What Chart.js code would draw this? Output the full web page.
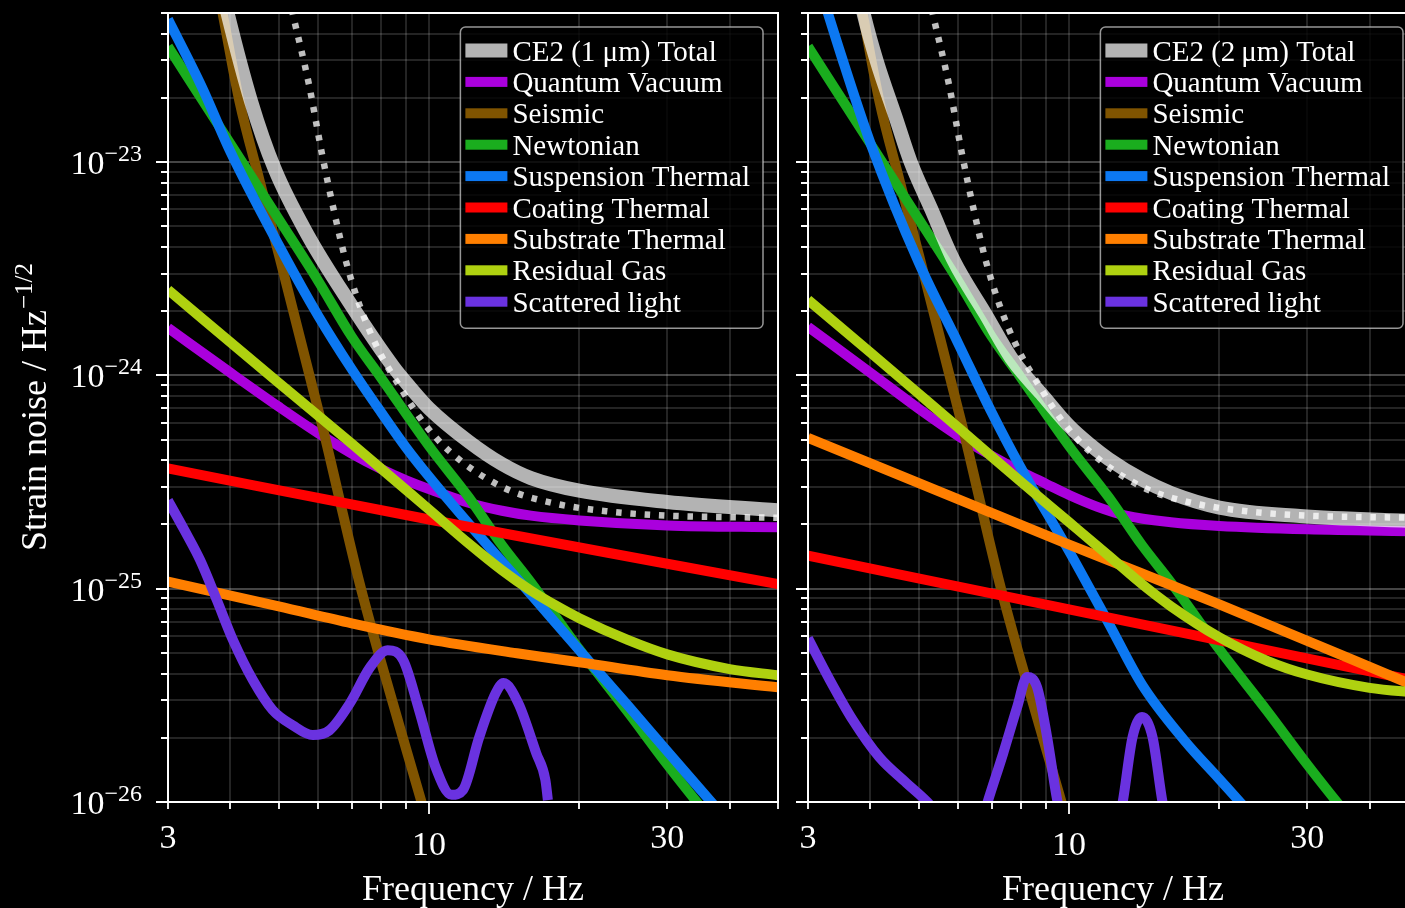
<!DOCTYPE html>
<html>
<head>
<meta charset="utf-8">
<script src="https://cdn.jsdelivr.net/npm/chart.js@4.4.1/dist/chart.umd.min.js"></script>
<style>
  html, body { margin: 0; padding: 0; background: #000; overflow: hidden; width: 1405px; height: 908px; }
  .panel { position: absolute; top: 0; }
  #panel-1um { left: 0; }
  #panel-2um { left: 790px; }
</style>
</head>
<body>
<div class="panel" id="panel-1um"><canvas id="chart-1um" width="790" height="908"></canvas></div>
<div class="panel" id="panel-2um"><canvas id="chart-2um" width="640" height="908"></canvas></div>
<script>
// Noise budget of CE2, 1 um (left) and 2 um (right) designs

// Axis ticks
const freqTicks = [3, 4, 5, 6, 7, 8, 9, 10, 20, 30, 40, 50];
const freqMajorTicks = [10];
const freqTickLabels = [3, 10, 30];
const strainTicks = [
  1e-26, 2e-26, 3e-26, 4e-26, 5e-26, 6e-26, 7e-26, 8e-26, 9e-26,
  1e-25, 2e-25, 3e-25, 4e-25, 5e-25, 6e-25, 7e-25, 8e-25, 9e-25,
  1e-24, 2e-24, 3e-24, 4e-24, 5e-24, 6e-24, 7e-24, 8e-24, 9e-24,
  1e-23, 2e-23, 3e-23, 4e-23, 5e-23,
];
const strainLabelExponents = [-26, -25, -24, -23];

// Curves shared by both panels
const referenceFreq = [5, 5.35, 5.75, 6.1, 6.45, 6.8, 7.25, 7.9, 8.7, 9.7, 11, 14, 18, 23, 30, 50];
const referenceStrain = [9.5e-23, 4.8e-23, 2.3e-23, 1.1e-23, 5.9e-24, 3.5e-24, 2.15e-24, 1.33e-24, 9.0e-25, 6.1e-25, 4.4e-25, 3.0e-25, 2.5e-25, 2.3e-25, 2.2e-25, 2.15e-25];
const seismicFreq = [3, 3.5, 3.86, 4.17, 4.58, 5, 6.1, 7.26, 8, 9.05, 9.6, 10.5];
const seismicStrain = [1.0e-21, 1.6e-22, 4.97e-23, 1.93e-23, 8.14e-24, 3.7e-24, 5.9e-25, 1.06e-25, 4.6e-26, 1.69e-26, 1.05e-26, 5e-27];
const newtonianFreq = [3, 4, 5, 6, 7, 8, 10, 12, 14, 16, 20, 25, 30, 35, 40];
const newtonianStrain = [3.48e-23, 1.22e-23, 5.4e-24, 2.77e-24, 1.52e-24, 9.8e-25, 4.66e-25, 2.69e-25, 1.6e-25, 1.07e-25, 5.2e-26, 2.65e-26, 1.5e-26, 9.5e-27, 6.5e-27];

// CE2 (1 um)
const total1Freq = [3, 3.5, 3.95, 4.4, 4.9, 5.7, 6.9, 8.5, 9.2, 10, 12, 14, 16, 20, 30, 50];
const total1Strain = [1.0e-21, 1.7e-22, 4.97e-23, 1.93e-23, 9.36e-24, 4.6e-24, 2.23e-24, 1.09e-24, 8.7e-25, 7.0e-25, 4.9e-25, 3.84e-25, 3.3e-25, 2.88e-25, 2.55e-25, 2.33e-25];
const quantum1Freq = [3, 4, 5, 6, 7, 8, 9, 10, 12, 14, 16, 20, 30, 50];
const quantum1Strain = [1.67e-24, 1.03e-24, 7.13e-25, 5.35e-25, 4.3e-25, 3.65e-25, 3.22e-25, 2.93e-25, 2.53e-25, 2.32e-25, 2.2e-25, 2.09e-25, 1.98e-25, 1.94e-25];
const suspension1Freq = [3, 3.5, 4, 5, 6, 7, 8, 9, 10, 12, 14, 16, 20, 25, 30, 35, 40];
const suspension1Strain = [4.67e-23, 2.27e-23, 1.12e-23, 4.08e-24, 1.9e-24, 1.07e-24, 6.76e-25, 4.58e-25, 3.35e-25, 2.02e-25, 1.34e-25, 9.4e-26, 5.14e-26, 2.84e-26, 1.73e-26, 1.14e-26, 7.97e-27];
const coating1Freq = [3, 10, 50];
const coating1Strain = [3.66e-25, 2.11e-25, 1.05e-25];
const substrate1Freq = [3, 5, 7, 10, 15, 20, 30, 50];
const substrate1Strain = [1.08e-25, 8.26e-26, 6.88e-26, 5.79e-26, 4.98e-26, 4.52e-26, 3.93e-26, 3.45e-26];
const gas1Freq = [3, 5, 7, 10, 12, 14, 16, 18, 20, 25, 30, 40, 50];
const gas1Strain = [2.52e-24, 9.23e-25, 4.79e-25, 2.35e-25, 1.63e-25, 1.22e-25, 9.79e-26, 8.3e-26, 7.27e-26, 5.75e-26, 4.92e-26, 4.2e-26, 3.93e-26];
const scatter1Freq = [3, 3.24, 3.48, 3.76, 4.05, 4.44, 4.86, 5.33, 5.85, 6.32, 6.94, 7.62, 8.26, 8.88, 9.55, 10.3, 11.1, 11.7, 12.6, 13.6, 14.1, 15.1, 16.4, 17.1, 17.3];
const scatter1Strain = [2.59e-25, 1.87e-25, 1.36e-25, 8.81e-26, 5.73e-26, 3.72e-26, 2.7e-26, 2.29e-26, 2.06e-26, 2.17e-26, 2.9e-26, 4.28e-26, 5.14e-26, 4.62e-26, 2.7e-26, 1.46e-26, 1.08e-26, 1.14e-26, 2.01e-26, 3.24e-26, 3.61e-26, 2.9e-26, 1.69e-26, 1.27e-26, 1.02e-26];

// CE2 (2 um)
const total2Freq = [3, 3.5, 3.89, 4.12, 4.5, 4.81, 5.3, 5.88, 6.8, 7.73, 8.8, 10, 11, 12, 14, 16, 20, 29, 50];
const total2Strain = [1.0e-21, 1.5e-22, 4.82e-23, 2.97e-23, 1.61e-23, 1.01e-23, 6.0e-24, 3.44e-24, 1.94e-24, 1.17e-24, 8.2e-25, 5.8e-25, 4.75e-25, 4.06e-25, 3.25e-25, 2.81e-25, 2.4e-25, 2.19e-25, 2.07e-25];
const quantum2Freq = [3, 4, 5, 6, 7, 8, 9, 10, 11.4, 13, 16, 20, 30, 50];
const quantum2Strain = [1.69e-24, 1.03e-24, 6.98e-25, 5.2e-25, 4.2e-25, 3.55e-25, 3.1e-25, 2.75e-25, 2.42e-25, 2.2e-25, 2.05e-25, 1.97e-25, 1.9e-25, 1.86e-25];
const suspension2Freq = [3, 3.5, 4, 5, 6, 7, 8, 10, 12, 14, 17, 20, 22, 25];
const suspension2Strain = [1.0e-22, 3.14e-23, 1.23e-23, 3.38e-24, 1.41e-24, 6.7e-25, 3.7e-25, 1.5e-25, 6.9e-26, 3.55e-26, 1.95e-26, 1.28e-26, 1.0e-26, 7.2e-27];
const coating2Freq = [3, 10, 50];
const coating2Strain = [1.43e-25, 8.0e-26, 3.68e-26];
const substrate2Freq = [3, 10, 20, 50];
const substrate2Strain = [5.1e-25, 1.61e-25, 8.45e-26, 3.45e-26];
const gas2Freq = [3, 4, 5, 6, 7, 8, 10, 12, 14, 16, 20, 25, 30, 40, 50];
const gas2Strain = [2.26e-24, 1.28e-24, 8.2e-25, 5.69e-25, 4.16e-25, 3.18e-25, 2.05e-25, 1.43e-25, 1.05e-25, 8.27e-26, 5.92e-26, 4.58e-26, 3.96e-26, 3.43e-26, 3.25e-26];
const scatter2Freq = [3, 3.32, 3.69, 4.17, 4.72, 5.2, 5.9, 6.5, 6.86, 7.38, 7.87, 8.24, 8.63, 9.04, 9.47, 10.2, 12.0, 12.8, 13.4, 14.0, 14.7, 15.4, 16.5];
const scatter2Strain = [5.85e-26, 3.72e-26, 2.42e-26, 1.62e-26, 1.23e-26, 1.0e-26, 7e-27, 6.5e-27, 9.9e-27, 1.69e-26, 2.78e-26, 3.85e-26, 3.45e-26, 2.01e-26, 1.02e-26, 5e-27, 5e-27, 9.9e-27, 2.01e-26, 2.5e-26, 2.01e-26, 9.9e-27, 5e-27];

// Colors
const COLORS = {
  total: "rgba(255, 255, 255, 0.7)",
  reference: "rgba(255, 255, 255, 0.75)",
  quantum: "#aa00dd",
  seismic: "#805400",
  newtonian: "#1aad1e",
  suspension: "#0c78f2",
  coating: "#ff0000",
  substrate: "#ff7f00",
  gas: "#afd110",
  scattered: "#6a32e0",
};
const AXIS_COLOR = "#ffffff";
const GRID_MINOR = "rgba(255, 255, 255, 0.14)";
const GRID_MAJOR = "rgba(255, 255, 255, 0.27)";
const FONT = "'Liberation Serif', 'Times New Roman', serif";

function isDecade(v) {
  const l = Math.log10(v);
  return Math.abs(l - Math.round(l)) < 1e-6;
}

// Build one line dataset from a frequency / strain pair
function makeLine(label, freq, strain, color, width, order, dash) {
  return {
    label: label,
    data: freq.map((f, i) => ({ x: f, y: strain[i] })),
    borderColor: color,
    backgroundColor: color,
    borderWidth: width,
    borderDash: dash || [],
    borderCapStyle: "butt",
    borderJoinStyle: "round",
    pointRadius: 0,
    fill: false,
    cubicInterpolationMode: "monotone",
    clip: 0,
    order: order,
  };
}

function panelDatasets(p) {
  return [
    makeLine(p.totalLabel, p.total[0], p.total[1], COLORS.total, 14, 0),
    makeLine("", referenceFreq, referenceStrain, COLORS.reference, 6.5, 1, [5.5, 8.8]),
    makeLine("Quantum Vacuum", p.quantum[0], p.quantum[1], COLORS.quantum, 10, 9),
    makeLine("Seismic", seismicFreq, seismicStrain, COLORS.seismic, 10, 8),
    makeLine("Newtonian", newtonianFreq, newtonianStrain, COLORS.newtonian, 10, 7),
    makeLine("Suspension Thermal", p.suspension[0], p.suspension[1], COLORS.suspension, 10, 6),
    makeLine("Coating Thermal", p.coating[0], p.coating[1], COLORS.coating, 10, 5),
    makeLine("Substrate Thermal", p.substrate[0], p.substrate[1], COLORS.substrate, 10, 4),
    makeLine("Residual Gas", p.gas[0], p.gas[1], COLORS.gas, 10, 3),
    makeLine("Scattered light", p.scatter[0], p.scatter[1], COLORS.scattered, 10, 2),
  ];
}

// Frame, ticks, labels and legend drawn on top of the plot
function makeDecor(p) {
  return {
    id: "decor",
    afterDatasetsDraw(chart) {
      const ctx = chart.ctx;
      const area = chart.chartArea;
      const xs = chart.scales.x;
      const ys = chart.scales.y;
      ctx.save();

      // Frame
      ctx.strokeStyle = AXIS_COLOR;
      ctx.lineWidth = 2;
      ctx.strokeRect(area.left, area.top, area.right - area.left, area.bottom - area.top);

      // Tick marks
      ctx.lineWidth = 1.8;
      ctx.beginPath();
      freqTicks.forEach((f) => {
        const x = Math.round(xs.getPixelForValue(f));
        const len = freqMajorTicks.includes(f) ? 12 : 7;
        ctx.moveTo(x, area.bottom);
        ctx.lineTo(x, area.bottom + len);
      });
      strainTicks.forEach((v) => {
        const y = Math.round(ys.getPixelForValue(v));
        const len = isDecade(v) ? 12 : 7;
        ctx.moveTo(area.left, y);
        ctx.lineTo(area.left - len, y);
      });
      ctx.stroke();

      ctx.fillStyle = AXIS_COLOR;

      // X tick labels
      ctx.font = "34px " + FONT;
      ctx.textAlign = "center";
      ctx.textBaseline = "alphabetic";
      freqTickLabels.forEach((f) => {
        const x = xs.getPixelForValue(f);
        const off = freqMajorTicks.includes(f) ? 53 : 46;
        ctx.fillText(String(f), x, area.bottom + off);
      });

      // X title
      ctx.font = "36px " + FONT;
      ctx.fillText("Frequency / Hz", (area.left + area.right) / 2, 900);

      if (p.showYLabels) {
        // Y tick labels, 10 with a raised exponent
        strainLabelExponents.forEach((e) => {
          const y = ys.getPixelForValue(Math.pow(10, e));
          const expText = "\u2212" + String(-e);
          ctx.font = "24px " + FONT;
          const expW = ctx.measureText(expText).width;
          const right = area.left - 26;
          ctx.textAlign = "left";
          ctx.fillText(expText, right - expW, y - 1);
          ctx.font = "34px " + FONT;
          ctx.textAlign = "right";
          ctx.fillText("10", right - expW, y + 12);
        });

        // Y title, rotated
        ctx.save();
        ctx.translate(46, (area.top + area.bottom) / 2);
        ctx.rotate(-Math.PI / 2);
        ctx.font = "36px " + FONT;
        const main = "Strain noise / Hz";
        const mainW = ctx.measureText(main).width;
        ctx.font = "25px " + FONT;
        const sup = "\u22121/2";
        const supW = ctx.measureText(sup).width;
        const start = -(mainW + supW) / 2;
        ctx.textAlign = "left";
        ctx.font = "36px " + FONT;
        ctx.fillText(main, start, 0);
        ctx.font = "25px " + FONT;
        ctx.fillText(sup, start + mainW + 1, -14);
        ctx.restore();
      }

      // Legend box
      const items = chart.data.datasets.filter((d) => d.label);
      ctx.font = "29px " + FONT;
      ctx.textAlign = "left";
      const maxW = Math.max(...items.map((d) => ctx.measureText(d.label).width));
      const rowH = 31.4;
      const boxW = 52 + maxW + 13;
      const boxH = 23.5 + (items.length - 1) * rowH + 26.5;
      const boxR = area.right - 15;
      const boxL = boxR - boxW;
      const boxT = area.top + 14;
      ctx.beginPath();
      ctx.roundRect(boxL, boxT, boxW, boxH, 5);
      ctx.fillStyle = "rgba(0, 0, 0, 0.8)";
      ctx.fill();
      ctx.strokeStyle = "rgba(200, 200, 200, 0.75)";
      ctx.lineWidth = 1.5;
      ctx.stroke();
      items.forEach((d, i) => {
        const cy = boxT + 23.5 + i * rowH;
        ctx.fillStyle = d.borderColor;
        ctx.fillRect(boxL + 5, cy - d.borderWidth / 2, 42, d.borderWidth);
        ctx.fillStyle = AXIS_COLOR;
        ctx.fillText(d.label, boxL + 52, cy + 10);
      });

      ctx.restore();
    },
  };
}

function makePanel(canvasId, p) {
  const ctx = document.getElementById(canvasId).getContext("2d");
  return new Chart(ctx, {
    type: "line",
    data: { datasets: panelDatasets(p) },
    options: {
      responsive: false,
      animation: false,
      events: [],
      layout: { padding: { top: 13, right: p.rightPad, left: 0, bottom: 0 } },
      plugins: { legend: { display: false }, tooltip: { enabled: false } },
      scales: {
        x: {
          type: "logarithmic",
          min: 3,
          max: 50,
          afterBuildTicks: (scale) => {
            scale.ticks = freqTicks.map((v) => ({ value: v }));
          },
          afterFit: (scale) => {
            scale.height = 106;
          },
          ticks: { display: false, autoSkip: false },
          grid: { color: GRID_MINOR, lineWidth: 2, drawTicks: false },
          border: { display: false },
        },
        y: {
          type: "logarithmic",
          min: 1e-26,
          max: 5e-23,
          afterBuildTicks: (scale) => {
            scale.ticks = strainTicks.map((v) => ({ value: v }));
          },
          afterFit: (scale) => {
            scale.width = p.axisWidth;
          },
          ticks: { display: false, autoSkip: false },
          grid: {
            color: (c) => (c.tick && isDecade(c.tick.value) ? GRID_MAJOR : GRID_MINOR),
            lineWidth: 2,
            drawTicks: false,
          },
          border: { display: false },
        },
      },
    },
    plugins: [makeDecor(p)],
  });
}

makePanel("chart-1um", {
  totalLabel: "CE2 (1 \u03bcm) Total",
  showYLabels: true,
  axisWidth: 168,
  rightPad: 12,
  total: [total1Freq, total1Strain],
  quantum: [quantum1Freq, quantum1Strain],
  suspension: [suspension1Freq, suspension1Strain],
  coating: [coating1Freq, coating1Strain],
  substrate: [substrate1Freq, substrate1Strain],
  gas: [gas1Freq, gas1Strain],
  scatter: [scatter1Freq, scatter1Strain],
});

makePanel("chart-2um", {
  totalLabel: "CE2 (2\u2009\u03bcm) Total",
  showYLabels: false,
  axisWidth: 18,
  rightPad: 12,
  total: [total2Freq, total2Strain],
  quantum: [quantum2Freq, quantum2Strain],
  suspension: [suspension2Freq, suspension2Strain],
  coating: [coating2Freq, coating2Strain],
  substrate: [substrate2Freq, substrate2Strain],
  gas: [gas2Freq, gas2Strain],
  scatter: [scatter2Freq, scatter2Strain],
});
</script>
</body>
</html>
